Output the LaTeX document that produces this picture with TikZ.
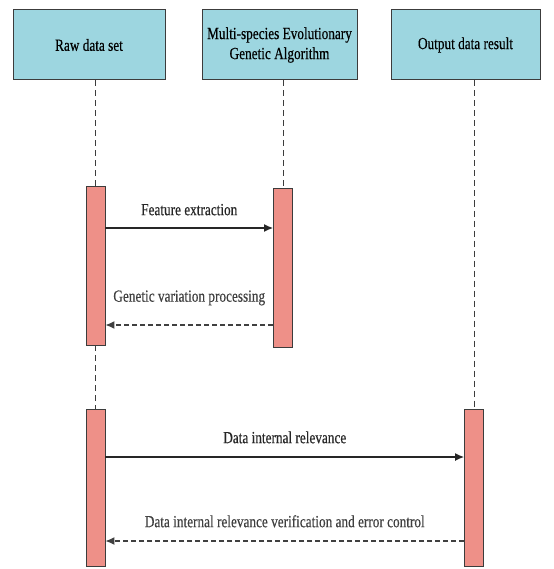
\documentclass[tikz,border=0pt]{standalone}
\usepackage{fontspec}
\setmainfont{Liberation Serif}[FakeStretch=0.78,FakeBold=0.4]
\usetikzlibrary{positioning,arrows.meta,calc}
\definecolor{headfill}{RGB}{157,214,224}
\definecolor{barfill}{RGB}{238,144,136}
\definecolor{edge}{RGB}{60,60,60}
\tikzset{
  head/.style={draw=edge,fill=headfill,line width=1pt,minimum width=152pt,minimum height=70pt,
               align=center,font=\fontsize{17}{20}\selectfont,inner sep=2pt},
  actbar/.style={draw=edge,fill=barfill,line width=0.8pt,minimum width=19pt,inner sep=0pt},
  life/.style={edge,line width=0.7pt,dash pattern=on 6pt off 4pt},
  msg/.style={-{Latex[length=9pt,width=8pt]},line width=1.3pt,black!85},
  ret/.style={msg,dash pattern=on 5pt off 3pt,black!75},
  lbl/.style={font=\fontsize{17}{20}\selectfont,inner sep=1pt},
}

\begin{document}
\begin{tikzpicture}[x=1pt,y=-1pt]
  \useasboundingbox (0,0) rectangle (553,569);
  % ===== header boxes =====
  \node[head] (raw) at (89,45){Raw data set};
  \node[head,minimum width=155pt] (mega) at (279.5,45){Multi-species Evolutionary\\Genetic Algorithm};
  \node[head,minimum width=149pt] (out) at (465.5,45){Output data result};

  % ===== activation bars =====
  \node[actbar,minimum height=159pt] (r1) at (95.5,265.5){};
  \node[actbar,minimum height=159pt] (m1) at (283,267.5){};
  \node[actbar,minimum height=157pt] (r2) at (95.5,487.5){};
  \node[actbar,minimum height=157pt] (o1) at (474,487.5){};

  % lifelines
  \draw[life] (raw.south -| r1.north) -- (r1.north);
  \draw[life] (r1.south) -- (r2.north);
  \draw[life] (mega.south -| m1.north) -- (m1.north);
  \draw[life] (out.south -| o1.north) -- (o1.north);

  % ===== messages =====
  \draw[msg] (r1.east |- 0,228) -- (m1.west |- 0,228)
     node[midway,lbl,above=11pt]{Feature extraction};
  \draw[ret] (m1.west |- 0,325) -- (r1.east |- 0,325)
     node[midway,lbl,above=18pt]{Genetic variation processing};
  \draw[msg] (r2.east |- 0,457) -- (o1.west |- 0,457)
     node[midway,lbl,above=12pt]{Data internal relevance};
  \draw[ret] (o1.west |- 0,541) -- (r2.east |- 0,541)
     node[midway,lbl,above=12pt]{Data internal relevance verification and error control};
\end{tikzpicture}
\end{document}
